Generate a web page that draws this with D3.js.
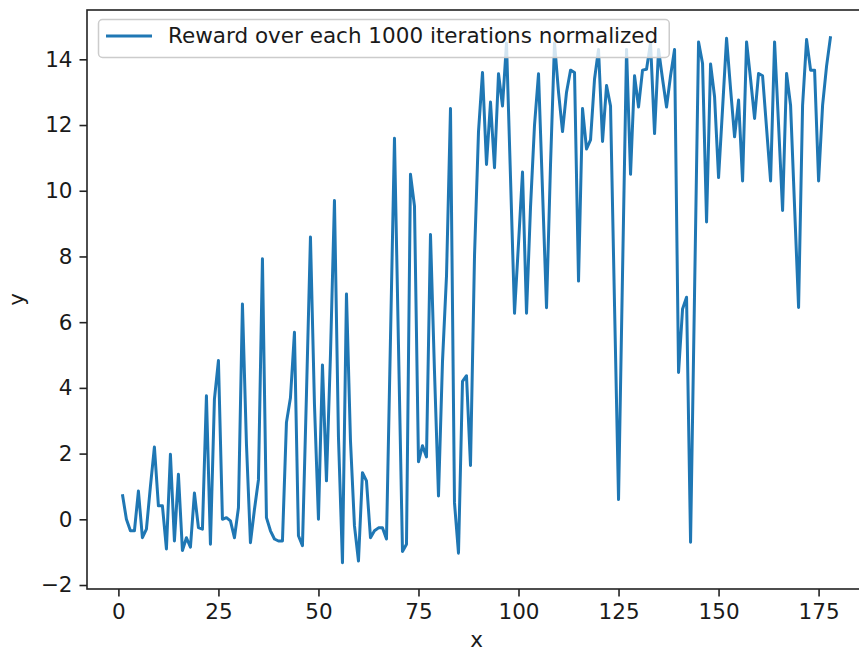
<!DOCTYPE html>
<html>
<head>
<meta charset="utf-8">
<script src="https://cdn.jsdelivr.net/npm/d3@7"></script>
<style>
  html, body { margin: 0; padding: 0; background: #ffffff; }
  svg { display: block; }
  text { font-family: "DejaVu Sans", sans-serif; fill: #1a1a1a; }
</style>
</head>
<body>
<svg id="chart" width="859" height="656"></svg>
<script>
// ---- data ----
const seriesName = "Reward over each 1000 iterations normalized";
const rewards = [
  0.76, 0.0, -0.35, -0.35, 0.86, -0.56, -0.3, 1.0, 2.2, 0.41,
  0.41, -0.9, 1.98, -0.66, 1.37, -0.95, -0.56, -0.85, 0.8, -0.25,
  -0.3, 3.76, -0.76, 3.66, 4.83, 0.0, 0.05, -0.05, -0.56, 0.35,
  6.55, 2.3, -0.71, 0.3, 1.2, 7.93, 0.05, -0.35, -0.6, -0.66,
  -0.66, 2.95, 3.7, 5.69, -0.5, -0.8, 3.8, 8.59, 3.5, 0.0,
  4.7, 1.17, 5.0, 9.7, 2.5, -1.32, 6.86, 2.4, -0.2, -1.27,
  1.42, 1.17, -0.56, -0.35, -0.26, -0.26, -0.6, 5.5, 11.6, 5.3,
  -0.98, -0.76, 10.5, 9.53, 1.75, 2.24, 1.9, 8.67, 4.5, 0.71,
  4.8, 7.4, 12.5, 0.5, -1.03, 4.2, 4.37, 1.64, 8.0, 11.8,
  13.6, 10.8, 12.7, 10.7, 13.56, 12.58, 14.5, 10.4, 6.27, 8.4,
  10.57, 6.27, 9.5, 12.0, 13.56, 10.0, 6.44, 10.8, 14.5, 13.0,
  11.8, 13.0, 13.67, 13.6, 7.25, 12.5, 11.27, 11.55, 13.4, 14.3,
  11.5, 13.2, 12.58, 6.5, 0.6, 7.5, 14.3, 10.5, 13.5, 12.55,
  13.67, 13.7, 14.5, 11.74, 14.3, 13.4, 12.55, 13.5, 14.3, 4.47,
  6.4, 6.76, -0.7, 6.9, 14.53, 13.87, 9.05, 13.86, 12.86, 10.4,
  12.5, 14.64, 13.1, 11.64, 12.76, 10.3, 14.53, 13.4, 12.2, 13.57,
  13.5, 11.9, 10.3, 14.53, 12.0, 9.4, 13.57, 12.6, 9.5, 6.45,
  12.6, 14.6, 13.67, 13.67, 10.3, 12.6, 13.8, 14.7
];
const iterations = rewards.map((_, i) => i + 1);
const xTicks = [0, 25, 50, 75, 100, 125, 150, 175];
const yTicks = [-2, 0, 2, 4, 6, 8, 10, 12, 14];
const xLabel = "x";
const yLabel = "y";

// ---- layout ----
const svg = d3.select("#chart");
const plot = { left: 87, top: 10, right: 866, bottom: 589 };
const fontSize = 21.5;
const tickLen = 7.5;
const pad = 7;

const xMinD = d3.min(iterations), xMaxD = d3.max(iterations);
const xm = (xMaxD - xMinD) * 0.05;
const yMinD = d3.min(rewards), yMaxD = d3.max(rewards);
const ym = (yMaxD - yMinD) * 0.05;

const x = d3.scaleLinear().domain([xMinD - xm, xMaxD + xm]).range([plot.left, plot.right]);
const y = d3.scaleLinear().domain([yMinD - ym, yMaxD + ym]).range([plot.bottom, plot.top]);

// clip
svg.append("defs").append("clipPath").attr("id", "clip")
  .append("rect").attr("x", plot.left).attr("y", plot.top)
  .attr("width", plot.right - plot.left).attr("height", plot.bottom - plot.top);

// line
const line = d3.line().x((d, i) => x(iterations[i])).y(d => y(d));
svg.append("path")
  .datum(rewards)
  .attr("clip-path", "url(#clip)")
  .attr("d", line)
  .attr("fill", "none")
  .attr("stroke", "#1f77b4")
  .attr("stroke-width", 3.0)
  .attr("stroke-linejoin", "round")
  .attr("stroke-linecap", "butt");

// axes
const xAxis = d3.axisBottom(x).tickValues(xTicks).tickSize(tickLen).tickPadding(pad).tickFormat(d3.format("d"));
const yAxis = d3.axisLeft(y).tickValues(yTicks).tickSize(tickLen).tickPadding(pad)
  .tickFormat(d => d < 0 ? "\u2212" + Math.abs(d) : String(d));

const gx = svg.append("g").attr("transform", `translate(0,${plot.bottom})`).call(xAxis);
const gy = svg.append("g").attr("transform", `translate(${plot.left},0)`).call(yAxis);
[gx, gy].forEach(g => {
  g.select(".domain").remove();
  g.selectAll(".tick line").attr("stroke", "#222").attr("stroke-width", 1.6);
  g.selectAll(".tick text").attr("font-size", fontSize).attr("font-family", "DejaVu Sans").attr("fill", "#1a1a1a");
});

// spines
svg.append("rect")
  .attr("x", plot.left).attr("y", plot.top)
  .attr("width", plot.right - plot.left).attr("height", plot.bottom - plot.top)
  .attr("fill", "none").attr("stroke", "#222").attr("stroke-width", 1.6);

// axis labels
svg.append("text")
  .attr("x", (plot.left + plot.right) / 2).attr("y", 647)
  .attr("text-anchor", "middle").attr("font-size", fontSize)
  .text(xLabel);
svg.append("text")
  .attr("transform", `translate(24,${(plot.top + plot.bottom) / 2}) rotate(-90)`)
  .attr("text-anchor", "middle").attr("font-size", fontSize)
  .text(yLabel);

// legend
const lg = svg.append("g");
const lgText = lg.append("text")
  .attr("x", 168).attr("y", 35)
  .attr("dominant-baseline", "central")
  .attr("font-size", fontSize)
  .text(seriesName);
const tw = lgText.node().getComputedTextLength();
lg.insert("rect", "text")
  .attr("x", 98.5).attr("y", 19.5)
  .attr("width", 168 + tw + 11 - 98.5).attr("height", 38)
  .attr("rx", 4).attr("ry", 4)
  .attr("fill", "#ffffff").attr("fill-opacity", 0.8)
  .attr("stroke", "#cccccc").attr("stroke-width", 1.5);
lg.insert("line", "text")
  .attr("x1", 106).attr("x2", 152).attr("y1", 36).attr("y2", 36)
  .attr("stroke", "#1f77b4").attr("stroke-width", 3.0);
</script>
</body>
</html>
